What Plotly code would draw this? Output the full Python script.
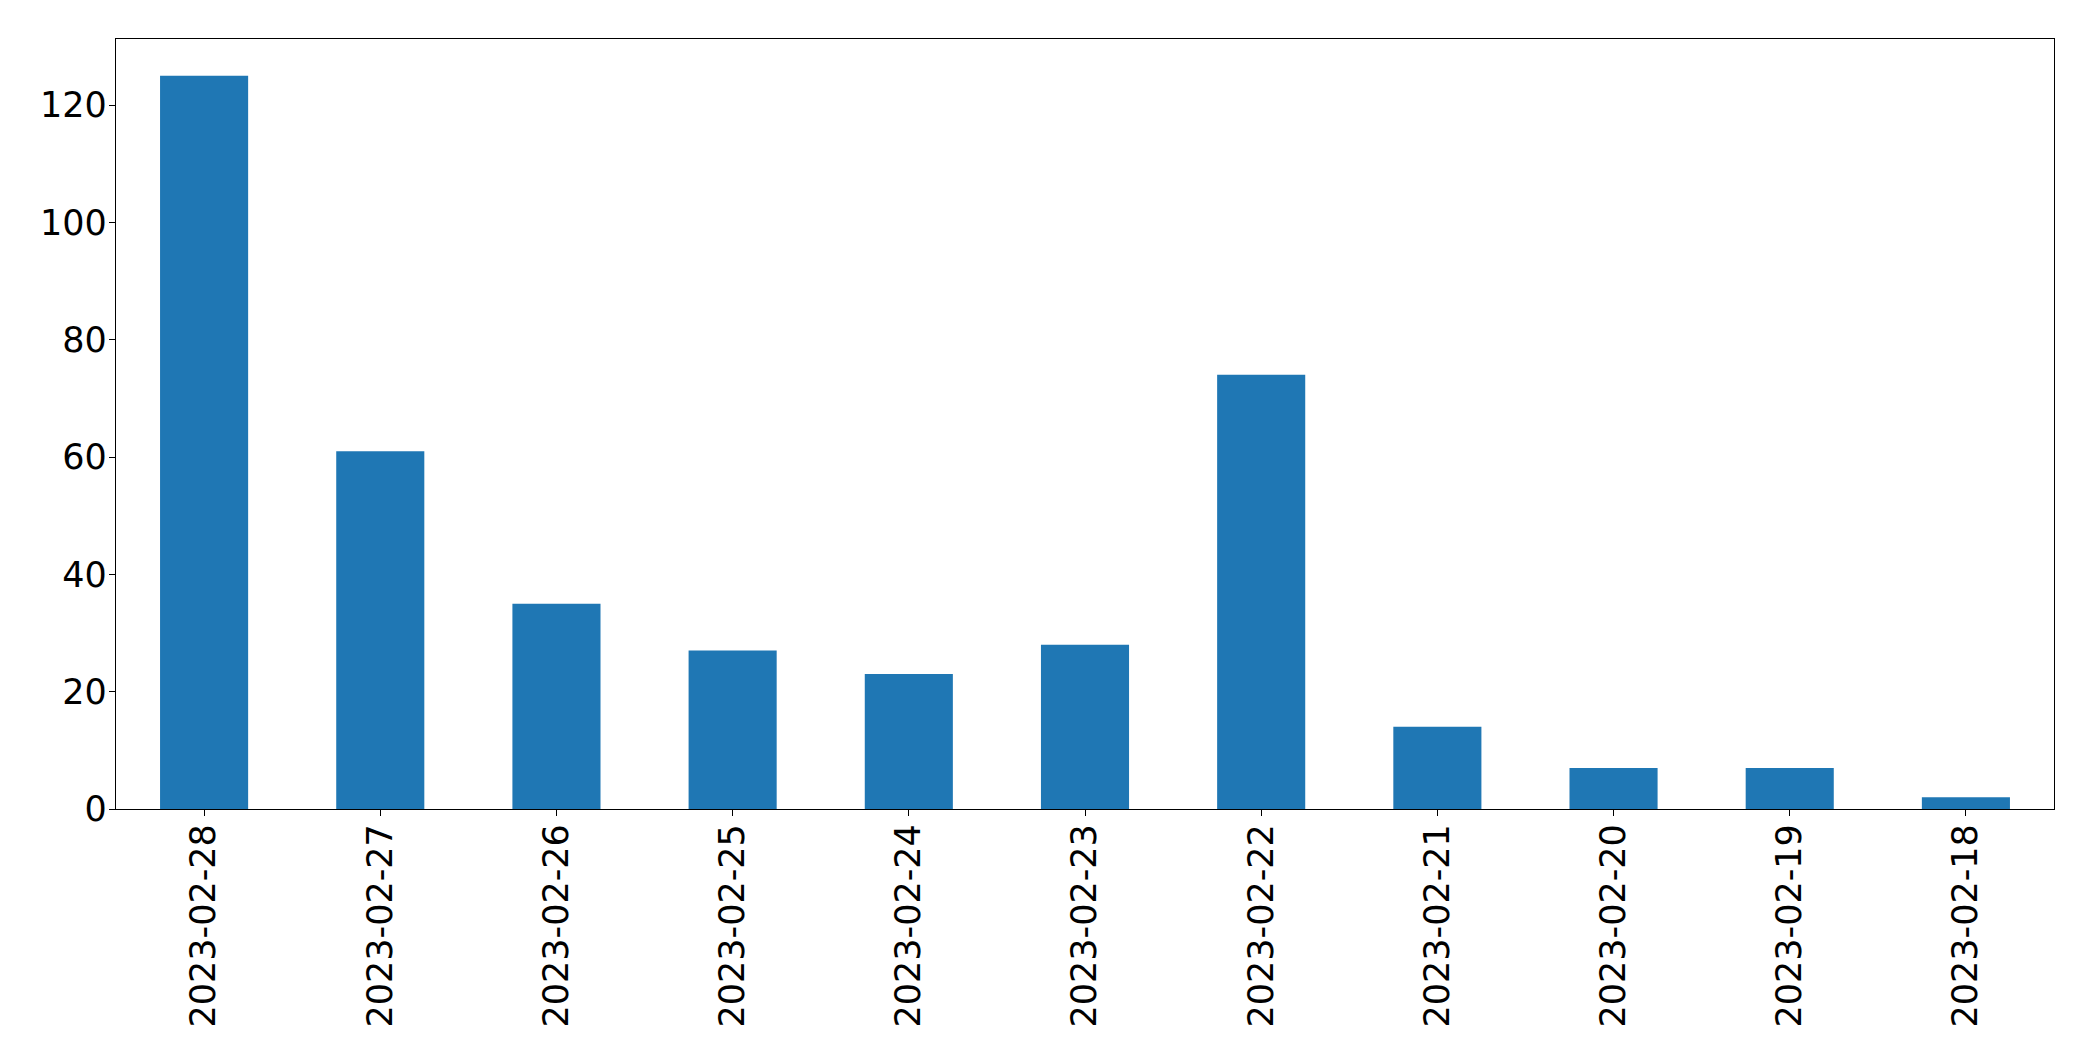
import plotly.graph_objects as go

dates = ["2023-02-28", "2023-02-27", "2023-02-26", "2023-02-25", "2023-02-24",
         "2023-02-23", "2023-02-22", "2023-02-21", "2023-02-20", "2023-02-19", "2023-02-18"]
counts = [125, 61, 35, 27, 23, 28, 74, 14, 7, 7, 2]
y_ticks = [0, 20, 40, 60, 80, 100, 120]

fig = go.Figure(go.Bar(x=dates, y=counts, marker=dict(color="#1f77b4", line=dict(width=0))))

font = dict(family="DejaVu Sans", size=35, color="black")
fig.update_layout(
    width=2085, height=1053,
    margin=dict(l=108, r=39, t=31, b=252, pad=0),
    paper_bgcolor="white", plot_bgcolor="white",
    bargap=0.5, showlegend=False,
    font=font,
)
fig.update_xaxes(
    type="category", range=[-0.5, len(dates) - 0.5],
    tickangle=-90, tickfont=font, ticklabelstandoff=-6,
    showline=True, mirror=True, linecolor="black", linewidth=1.3,
    ticks="outside", ticklen=6, tickwidth=1.3, tickcolor="black",
    showgrid=False, zeroline=False,
)
fig.update_yaxes(
    range=[0, 131.25], tickvals=y_ticks, tickfont=font, ticklabelstandoff=-5,
    showline=True, mirror=True, linecolor="black", linewidth=1.3,
    ticks="outside", ticklen=6, tickwidth=1.3, tickcolor="black",
    showgrid=False, zeroline=False,
)
fig.write_html("out.html")
